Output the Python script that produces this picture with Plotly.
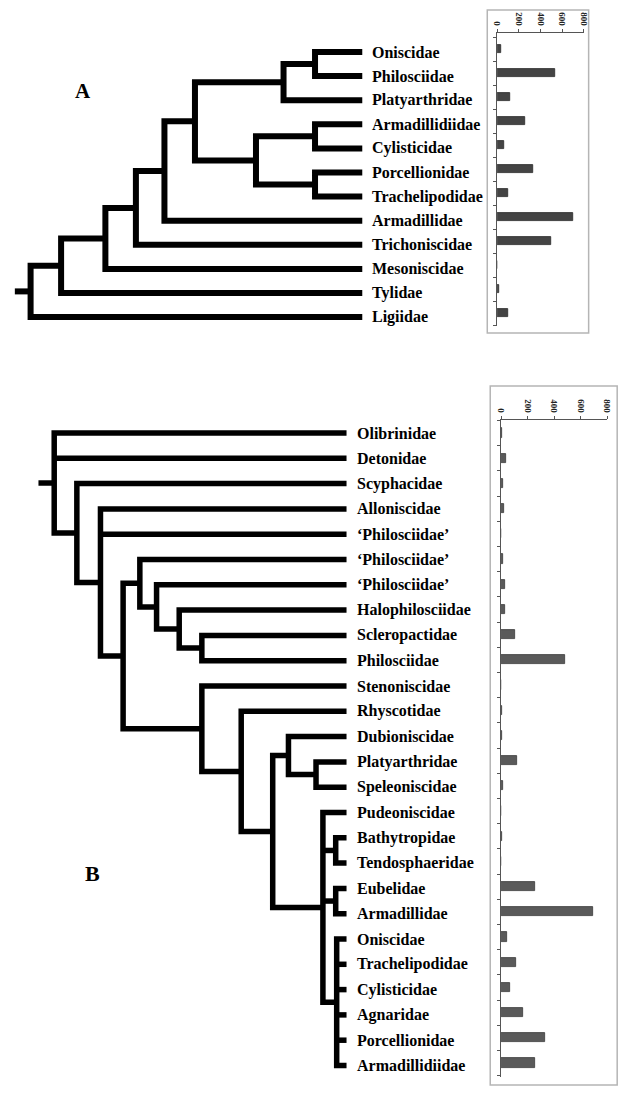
import plotly.graph_objects as go

W, H = 634, 1098
SERIF = "Liberation Serif"

# ---------------- data ----------------
A_TIPS = ["Oniscidae", "Philosciidae", "Platyarthridae", "Armadillidiidae",
          "Cylisticidae", "Porcellionidae", "Trachelipodidae", "Armadillidae",
          "Trichoniscidae", "Mesoniscidae", "Tylidae", "Ligiidae"]
A_COUNTS = [35, 540, 121, 257, 61, 334, 106, 703, 500, 4, 18, 97]

B_TIPS = ["Olibrinidae", "Detonidae", "Scyphacidae", "Alloniscidae",
          "\u2018Philosciidae\u2019", "\u2018Philosciidae\u2019", "\u2018Philosciidae\u2019",
          "Halophilosciidae", "Scleropactidae", "Philosciidae", "Stenoniscidae",
          "Rhyscotidae", "Dubioniscidae", "Platyarthridae", "Speleoniscidae",
          "Pudeoniscidae", "Bathytropidae", "Tendosphaeridae", "Eubelidae",
          "Armadillidae", "Oniscidae", "Trachelipodidae", "Cylisticidae",
          "Agnaridae", "Porcellionidae", "Armadillidiidae"]
B_COUNTS = [8, 39, 12, 24, 1, 12, 27, 32, 109, 484, 1, 9, 10, 124, 12,
            1, 5, 1, 254, 694, 44, 113, 69, 168, 333, 254]

AXIS_TICKS = [0, 200, 400, 600, 800]

# tree topology: internal node = (depth, [children]); leaf = tip index
A_TIP_DEPTH = 33.7
A_TREE = (0.0, [
    (3.1, [
        (7.6, [
            (10.7, [
                (13.6, [
                    (16.7, [
                        (25.7, [(28.9, [0, 1]), 2]),
                        (22.9, [(28.9, [3, 4]), (28.9, [5, 6])]),
                    ]),
                    7]),
                8]),
            9]),
        10]),
    11])

B_TIP_DEPTH = 29.7
B_TREE = (0.0, [0, 1,
    (2.3, [2,
        (4.7, [3, 4,
            (7.0, [
                (8.7, [5, (10.4, [6, (12.7, [7, (15.0, [8, 9])])])]),
                (15.0, [10, (19.0, [11, (22.2, [
                    (23.8, [12, (26.6, [13, 14])]),
                    (27.3, [15, (28.6, [16, 17]), (28.6, [18, 19]),
                            (28.7, [20, 21, 22, 23, 24, 25])]),
                ])])]),
            ]),
        ]),
    ]),
])
ROOT_STUB = 1.6


# ---------------- helpers ----------------
def tree_segments(tree, tip_depth):
    segs = []

    def walk(node):
        if isinstance(node, int):
            return (tip_depth, node)
        d, children = node
        pts = [walk(c) for c in children]
        y0, y1 = pts[0][1], pts[-1][1]
        segs.append([(pts[0][0], y0), (d, y0), (d, y1), (pts[-1][0], y1)])
        for cx, cy in pts[1:-1]:
            segs.append([(d, cy), (cx, cy)])
        return (d, (y0 + y1) / 2)

    rx, ry = walk(tree)
    segs.append([(rx - ROOT_STUB, ry), (rx, ry)])
    xs, ys = [], []
    for s in segs:
        for x, y in s:
            xs.append(x)
            ys.append(y)
        xs.append(None)
        ys.append(None)
    return xs, ys


def xr(a, b):  # pixel = a + b*v  -> x range over full width
    return [(0 - a) / b, (W - a) / b]


def yr(a, b, top=0, bottom=H):
    return [(bottom - a) / b, (top - a) / b]


fig = go.Figure()

# ---- tree A ----
xa, ya = tree_segments(A_TREE, A_TIP_DEPTH)
fig.add_trace(go.Scatter(x=xa, y=ya, mode="lines", xaxis="x", yaxis="y",
                         line=dict(color="black", width=6), hoverinfo="skip"))
# ---- tree B ----
xb, yb = tree_segments(B_TREE, B_TIP_DEPTH)
fig.add_trace(go.Scatter(x=xb, y=yb, mode="lines", xaxis="x3", yaxis="y3",
                         line=dict(color="black", width=5.5), hoverinfo="skip"))

# ---- bars A ----
fig.add_trace(go.Bar(x=A_COUNTS, y=list(range(len(A_COUNTS))), orientation="h",
                     xaxis="x2", yaxis="y2", width=0.34,
                     marker=dict(color="#444444", line=dict(color="#2a2a2a", width=0.8))))
# ---- bars B ----
fig.add_trace(go.Bar(x=B_COUNTS, y=list(range(len(B_COUNTS))), orientation="h",
                     xaxis="x4", yaxis="y4", width=0.36,
                     marker=dict(color="#5a5a5a", line=dict(color="#3a3a3a", width=0.8))))

hidden = dict(visible=False, showgrid=False, zeroline=False)

ann = []
for i, name in enumerate(A_TIPS):
    ann.append(dict(x=A_TIP_DEPTH, y=i, xref="x", yref="y", text=name,
                    showarrow=False, xanchor="left", yanchor="middle", xshift=8,
                    font=dict(family=SERIF, size=16, color="black", weight="bold")))
for i, name in enumerate(B_TIPS):
    ann.append(dict(x=B_TIP_DEPTH, y=i, xref="x3", yref="y3", text=name,
                    showarrow=False, xanchor="left", yanchor="middle", xshift=8,
                    font=dict(family=SERIF, size=16, color="black", weight="bold")))
ann.append(dict(x=79 / W, y=1 - 91 / H, xref="paper", yref="paper", text="A",
                xanchor="center", yanchor="middle", showarrow=False,
                font=dict(family=SERIF, size=21, color="black", weight="bold")))
ann.append(dict(x=89 / W, y=1 - 873 / H, xref="paper", yref="paper", text="B",
                xanchor="center", yanchor="middle", showarrow=False,
                font=dict(family=SERIF, size=22, color="black", weight="bold")))


def bar_xaxis(anchor, x0, x1):
    return dict(anchor=anchor, domain=[x0 / W, x1 / W], range=[0, 800], side="top",
                tickvals=AXIS_TICKS, ticktext=[str(t) for t in AXIS_TICKS],
                tickangle=90, ticks="outside", ticklen=3, tickcolor="#555",
                showline=True, linecolor="#555", linewidth=1,
                showgrid=False, zeroline=False,
                tickfont=dict(family=SERIF, size=9, color="#222", weight="bold"))


def bar_yaxis(anchor, n, top, bottom, a, b):
    return dict(anchor=anchor, domain=[1 - bottom / H, 1 - top / H],
                range=[(bottom - a) / b, (top - a) / b],
                tickvals=[i - 0.5 for i in range(n + 1)], ticks="outside", ticklen=3,
                tickcolor="#555", showticklabels=False, showline=True,
                linecolor="#555", linewidth=1, showgrid=False, zeroline=False)


fig.update_layout(
    width=W, height=H, margin=dict(l=0, r=0, t=0, b=0),
    paper_bgcolor="white", plot_bgcolor="rgba(0,0,0,0)", showlegend=False,
    bargap=0,
    xaxis=dict(hidden, domain=[0, 1], range=xr(26, 10), anchor="y"),
    yaxis=dict(hidden, domain=[0, 1], range=yr(52, 24.1), anchor="x"),
    xaxis3=dict(hidden, domain=[0, 1], range=xr(50, 10), anchor="y3"),
    yaxis3=dict(hidden, domain=[0, 1], range=yr(433, 25.3), anchor="x3"),
    xaxis2=bar_xaxis("y2", 500, 588),
    yaxis2=bar_yaxis("x2", len(A_COUNTS), 33, 326, 49, 24.0),
    xaxis4=bar_xaxis("y4", 504, 612),
    yaxis4=bar_yaxis("x4", len(B_COUNTS), 420, 1077, 433, 25.2),
    annotations=ann,
    shapes=[
        dict(type="rect", xref="paper", yref="paper", x0=490 / W, x1=593 / W,
             y0=1 - 333 / H, y1=1 - 10 / H, line=dict(color="#b5b5b5", width=1.5)),
        dict(type="rect", xref="paper", yref="paper", x0=493 / W, x1=622 / W,
             y0=1 - 1085 / H, y1=1 - 386 / H, line=dict(color="#b5b5b5", width=1.5)),
    ],
)

fig.write_html("out.html", config={"displayModeBar": False},
               post_script="document.body.style.margin='0';document.body.style.overflow='hidden';")
